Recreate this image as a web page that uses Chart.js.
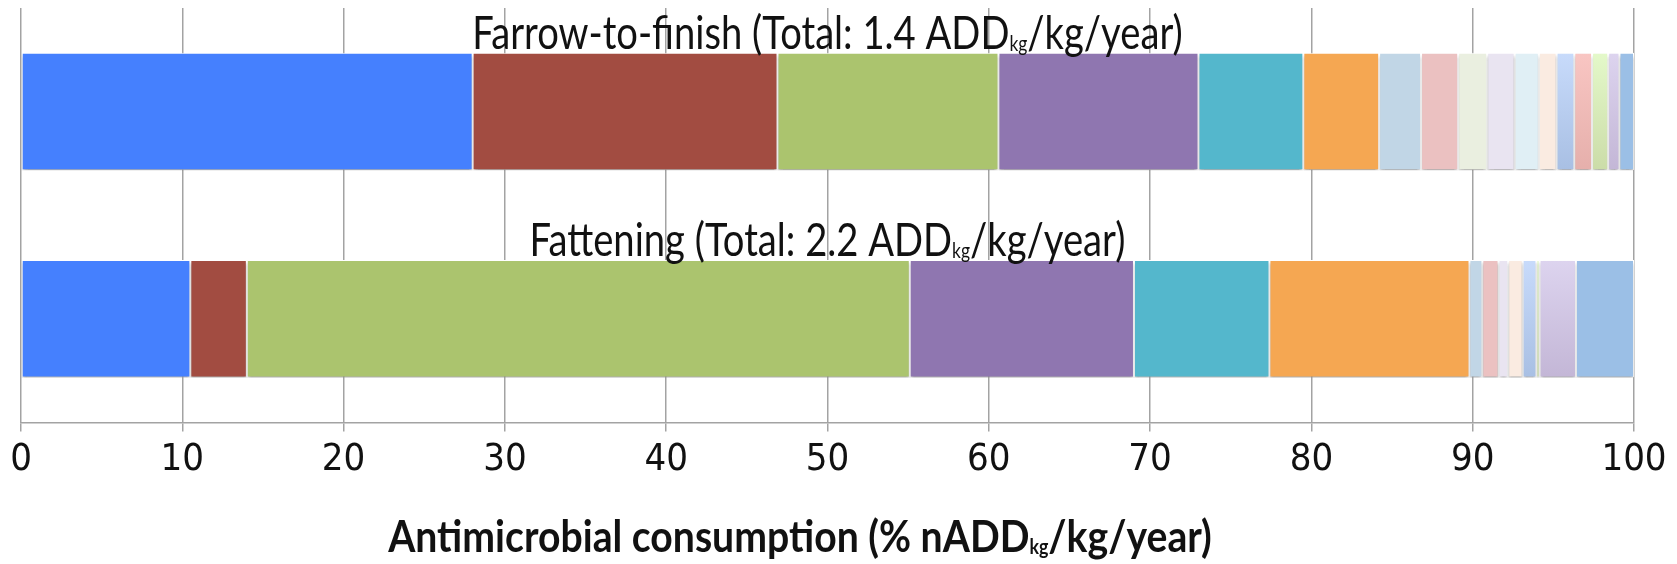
<!DOCTYPE html>
<html>
<head>
<meta charset="utf-8">
<script src="https://cdn.jsdelivr.net/npm/chart.js@4.4.1/dist/chart.umd.min.js"></script>
<style>
    html, body { margin: 0; padding: 0; background: #fff; }
    #wrap { width: 1677px; height: 564px; }
</style>
</head>
<body>
<div id="wrap"><canvas id="chart"></canvas></div>
<script>
const categories = ['Farrow-to-finish', 'Fattening']
const totals = ['1.4', '2.2']
const xTicks = [0, 10, 20, 30, 40, 50, 60, 70, 80, 90, 100]

// share of each antimicrobial group, % of nADDkg/kg/year
const farrowToFinish = [28.0, 18.9, 13.7, 12.4, 6.5, 4.7, 2.6, 2.3, 1.8, 1.7, 1.5, 1.1, 1.1, 1.1, 1.0, 0.7, 0.9]
const fattening = [10.5, 3.5, 41.1, 13.9, 8.4, 12.4, 0.8, 1.0, 0, 0.6, 0, 0.9, 0.85, 0, 0.2, 2.25, 3.6]

const groupColors = [
    '#4580fe', '#a24c41', '#abc46e', '#8f76b0', '#54b7cc', '#f5a752',
    '#c1d6e6', '#ebc1c1', '#eaefe0', '#e9e4f1', '#e0eff5', '#faebe1',
    ['#c8dbfb', '#a8bfe3'], ['#f9c6c3', '#e5afab'], ['#e4f9ca', '#cbdca8'], ['#ddd4ef', '#c3b6d6'],
    '#9bbfe6'
]

const textFont = 'Lato, "Open Sans", sans-serif'
const tickFont = '"Liberation Sans Narrow", "DejaVu Sans Condensed", Lato, sans-serif'

function barFill(ctx, color) {
    if (!Array.isArray(color)) return color
    const chart = ctx.chart
    if (!chart.chartArea || ctx.dataIndex === undefined) return color[0]
    const y = chart.scales.y.getPixelForValue(ctx.dataIndex)
    const g = chart.ctx.createLinearGradient(0, y - 60, 0, y + 60)
    g.addColorStop(0, color[0])
    g.addColorStop(1, color[1])
    return g
}

const datasets = groupColors.map((color, i) => ({
    label: 'Group ' + (i + 1),
    data: [farrowToFinish[i], fattening[i]],
    backgroundColor: (ctx) => barFill(ctx, color),
    borderColor: '#ffffff',
    borderWidth: 1,
    borderSkipped: false,
    barPercentage: 0.567,
    categoryPercentage: 1
}))

function drawRich(ctx, parts, cx, baseline, size, weight, stretch) {
    const small = Math.round(size * 0.45)
    const widths = parts.map(p => {
        ctx.font = `${weight} ${p.sub ? small : size}px ${textFont}`
        return ctx.measureText(p.t).width
    })
    const total = widths.reduce((a, b) => a + b, 0)
    ctx.save()
    ctx.translate(cx, baseline)
    ctx.scale(stretch, 1)
    ctx.fillStyle = '#111'
    ctx.textBaseline = 'alphabetic'
    ctx.textAlign = 'left'
    let x = -total / 2
    parts.forEach((p, i) => {
        ctx.font = `${weight} ${p.sub ? small : size}px ${textFont}`
        ctx.fillText(p.t, x, p.sub ? 2 : 0)
        x += widths[i]
    })
    ctx.restore()
}

const labelPlugin = {
    id: 'labels',
    beforeDatasetsDraw(chart) {
        const ctx = chart.ctx
        ctx.save()
        ctx.shadowColor = 'rgba(0,0,0,0.32)'
        ctx.shadowOffsetY = 3
        ctx.shadowBlur = 3
    },
    afterDatasetsDraw(chart) {
        chart.ctx.restore()
        const ctx = chart.ctx
        const area = chart.chartArea
        const cx = (area.left + area.right) / 2
        const bars = chart.getDatasetMeta(0).data
        categories.forEach((name, i) => {
            const bar = bars[i]
            const top = bar.y - bar.height / 2
            drawRich(ctx, [
                { t: `${name} (Total: ${totals[i]} ADD` },
                { t: 'kg', sub: true },
                { t: '/kg/year)' }
            ], cx, top - 4, 46, 400, 0.83)
        })
        drawRich(ctx, [
            { t: 'Antimicrobial consumption (% nADD' },
            { t: 'kg', sub: true },
            { t: '/kg/year)' }
        ], 800, 552, 44, 700, 0.89)
    }
}

new Chart(document.getElementById('chart'), {
    type: 'bar',
    data: { labels: categories, datasets },
    options: {
        indexAxis: 'y',
        responsive: true,
        maintainAspectRatio: false,
        animation: false,
        layout: { padding: { left: 21, right: 43, top: 8, bottom: 75 } },
        plugins: { legend: { display: false }, tooltip: { enabled: false } },
        scales: {
            x: {
                stacked: true,
                min: 0,
                max: 100,
                afterBuildTicks: (scale) => { scale.ticks = xTicks.map(v => ({ value: v })) },
                grid: { color: '#a3a3a3', lineWidth: 1.5, tickLength: 9, drawTicks: true },
                border: { color: '#a3a3a3', width: 1.5 },
                ticks: { color: '#111', padding: 6, font: { family: tickFont, size: 38 } }
            },
            y: {
                stacked: true,
                display: false
            }
        }
    },
    plugins: [labelPlugin]
})
</script>
</body>
</html>
